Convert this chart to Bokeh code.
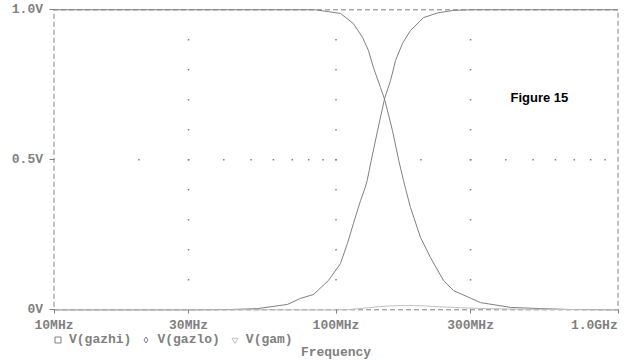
import math
from bokeh.plotting import figure
from bokeh.models import Range1d, FixedTicker, Legend, LegendItem, Label
from bokeh.embed import file_html
from bokeh.resources import INLINE

# ---- data (frequency in MHz, value in V) ----
freq_gazhi = [10, 20, 30, 42.3, 52.7, 67.3, 74.8, 83.2, 94.1, 103.7, 109.8, 115.3, 122.2,
              126.5, 129.0, 133.3, 140.4, 148.6, 156.1, 162.6, 172.1, 183.7, 204.3, 230, 261.1,
              300, 500, 1000]
v_gazhi = [0.0, 0.0, 0.0, 0.001, 0.004, 0.018, 0.038, 0.051, 0.098, 0.154, 0.221, 0.288, 0.364,
           0.404, 0.431, 0.497, 0.597, 0.703, 0.764, 0.831, 0.888, 0.931, 0.974, 0.99, 0.998,
           1.0, 1.0, 1.0]

freq_gazlo = [10, 30, 60, 84.6, 103.7, 115.3, 124.2, 130.4, 135.8, 143.8, 148.6, 158.6, 167.0,
              173.5, 176.4, 183.7, 199.4, 216.3, 240.5, 261.1, 325.4, 415.8, 531.2, 678.7, 1000]
v_gazlo = [1.0, 1.0, 1.0, 1.0, 0.988, 0.954, 0.908, 0.864, 0.807, 0.741, 0.703, 0.597, 0.497,
           0.431, 0.404, 0.341, 0.241, 0.174, 0.098, 0.064, 0.024, 0.008, 0.004, 0.001, 0.0]

freq_gam = [10, 50, 100, 112.6, 120, 130.4, 143.8, 156.1, 170, 190, 207.7, 220, 276.4, 340,
            450, 600, 1000]
v_gam = [0.0, 0.0, 0.0, 0.001, 0.004, 0.007, 0.011, 0.013, 0.014, 0.014, 0.013, 0.011, 0.007,
         0.004, 0.002, 0.001, 0.0]

series_names = ["V(gazhi)", "V(gazlo)", "V(gam)"]

x_ticks = [10, 30, 100, 300, 1000]
x_tick_labels = ["10MHz", "30MHz", "100MHz", "300MHz", "1.0GHz"]
y_ticks = [0, 0.5, 1]
y_tick_labels = ["0V", "0.5V", "1.0V"]

grid_cols = [30, 100, 300]
grid_col_levels = [0.1, 0.2, 0.3, 0.4, 0.5, 0.6, 0.7, 0.8, 0.9]
grid_row_level = 0.5
grid_row_freqs = [20, 30, 40, 50, 60, 70, 80, 90, 100, 200, 300, 400, 500, 600, 700, 800, 900]

x_title = "Frequency"
annotation_text = "Figure 15"

# ---- layout (pixels) ----
W, H = 625, 361
PLOT_LEFT, PLOT_RIGHT = 53.5, 617.5      # pixel of first / last x tick
PLOT_TOP, PLOT_BOTTOM = 9.3, 309.3       # pixel of top / bottom y tick
dec_px = (PLOT_RIGHT - PLOT_LEFT) / math.log10(x_ticks[-1] / x_ticks[0])
v_px = (PLOT_BOTTOM - PLOT_TOP) / (y_ticks[-1] - y_ticks[0])
x_lo = x_ticks[0] * 10 ** (-PLOT_LEFT / dec_px)
x_hi = x_ticks[-1] * 10 ** ((W - PLOT_RIGHT) / dec_px)
y_hi = y_ticks[-1] + PLOT_TOP / v_px
y_lo = y_ticks[0] - (H - PLOT_BOTTOM) / v_px

# ---- style ----
GREY = "#808080"
LIGHT = "#c0c0c0"
MONO = "Liberation Mono"
FS = "13px"
NBSP = "\u00a0"

p = figure(width=W, height=H, x_axis_type="log",
           x_range=Range1d(x_lo, x_hi), y_range=Range1d(y_lo, y_hi),
           output_backend="svg", toolbar_location=None,
           min_border_left=0, min_border_right=0, min_border_top=0, min_border_bottom=0,
           background_fill_color="white", border_fill_color="white")
p.xgrid.visible = False
p.ygrid.visible = False
p.outline_line_color = None

# dashed plot border
bx = [x_ticks[0], x_ticks[-1], x_ticks[-1], x_ticks[0], x_ticks[0]]
by = [y_ticks[0], y_ticks[0], y_ticks[-1], y_ticks[-1], y_ticks[0]]
p.line(bx, by, line_color=GREY, line_width=1, line_dash="5 3")

# grid dots
gx = [c for c in grid_cols for _ in grid_col_levels]
gy = [lv for _ in grid_cols for lv in grid_col_levels]
gx += grid_row_freqs
gy += [grid_row_level] * len(grid_row_freqs)
p.scatter(gx, gy, marker="square", size=1.5, fill_color=GREY, line_color=None)

# curves
p.line(freq_gazhi, v_gazhi, line_color=GREY, line_width=1)
p.line(freq_gazlo, v_gazlo, line_color=GREY, line_width=1)
p.line(freq_gam, v_gam, line_color=LIGHT, line_width=1)

# axes, pinned to the plot border
xax = p.xaxis[0]
xax.fixed_location = y_ticks[0]
xax.ticker = FixedTicker(ticks=x_ticks)
ovr = dict(zip(x_ticks, x_tick_labels))
ovr[x_ticks[-1]] = x_tick_labels[-1] + NBSP
xax.major_label_overrides = ovr
yax = p.yaxis[0]
yax.fixed_location = x_ticks[0]
yax.ticker = FixedTicker(ticks=y_ticks)
yax.major_label_overrides = dict(zip(y_ticks, y_tick_labels))
for ax, tout, standoff in ((xax, 4, 4), (yax, 5, 6)):
    ax.axis_line_color = None
    ax.major_tick_out = tout
    ax.major_tick_in = 0
    ax.minor_tick_out = 0
    ax.minor_tick_in = 0
    ax.major_tick_line_color = GREY
    ax.major_label_text_font = MONO
    ax.major_label_text_font_style = "bold"
    ax.major_label_text_font_size = FS
    ax.major_label_text_color = GREY
    ax.major_label_standoff = standoff

p.add_layout(Label(x=415.6, y=0.708, text=annotation_text, text_align="left",
                   text_baseline="alphabetic", text_font="Liberation Sans",
                   text_font_style="bold", text_font_size="13px", text_color="black"))

p.add_layout(Label(x=(PLOT_LEFT + PLOT_RIGHT) / 2, y=9, x_units="screen", y_units="screen",
                   text=x_title, text_align="center", text_baseline="middle",
                   text_font=MONO, text_font_style="bold", text_font_size=FS,
                   text_color=GREY))

# legend: symbol-only renderers (NaN position, never drawn in the plot)
nan = float("nan")
r1 = p.scatter([nan], [nan], marker="square", size=6, fill_color=None, line_color=GREY)
r2 = p.scatter([nan], [nan], marker="diamond", size=7, fill_color=None, line_color=GREY)
r3 = p.scatter([nan], [nan], marker="inverted_triangle", size=7, fill_color=None,
               line_color=LIGHT)
legend = Legend(items=[LegendItem(label=series_names[0], renderers=[r1]),
                       LegendItem(label=series_names[1], renderers=[r2]),
                       LegendItem(label=series_names[2], renderers=[r3])],
                location=(50, 14), orientation="horizontal",
                glyph_width=15, glyph_height=15, label_standoff=4, spacing=7,
                padding=0, margin=0, border_line_color=None, background_fill_alpha=0,
                label_text_font=MONO, label_text_font_size=FS, label_text_font_style="bold",
                label_text_color=GREY, label_height=15)
p.add_layout(legend)

open("out.html", "w").write(file_html(p, INLINE))
